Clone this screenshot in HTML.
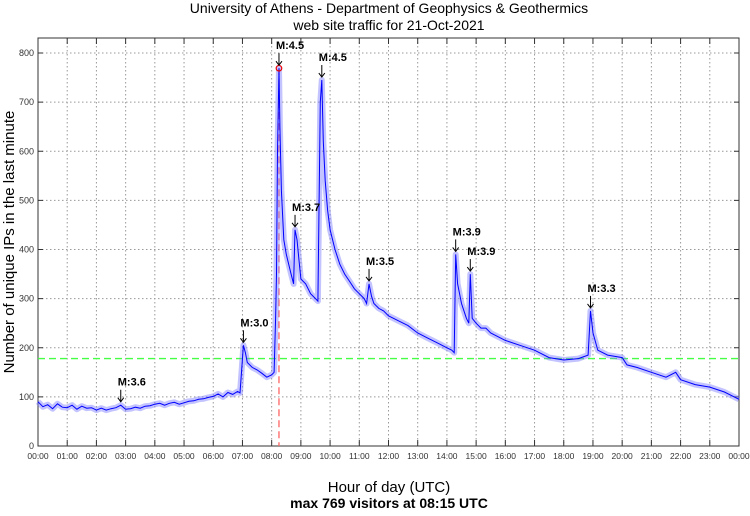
<!DOCTYPE html>
<html><head><meta charset="utf-8"><style>
body{margin:0;background:#fff;font-family:"Liberation Sans",sans-serif}
</style></head><body>
<svg id="c" width="750" height="511" xmlns="http://www.w3.org/2000/svg" font-family="Liberation Sans, sans-serif">
<text x="389" y="13" text-anchor="middle" font-size="14">University of Athens - Department of Geophysics &amp; Geothermics</text>
<text x="389" y="30" text-anchor="middle" font-size="14">web site traffic for 21-Oct-2021</text>
<text x="389" y="492" text-anchor="middle" font-size="15">Hour of day (UTC)</text>
<text x="389" y="508" text-anchor="middle" font-size="14" font-weight="bold">max 769 visitors at 08:15 UTC</text>
<text transform="translate(14,242) rotate(-90)" text-anchor="middle" font-size="15">Number of unique IPs in the last minute</text>
<g id="grid"></g><g id="plot"></g>
</svg>
<script>
const yTicks=[0,100,200,300,400,500,600,700,800];
const xTickLabels=["00:00","01:00","02:00","03:00","04:00","05:00","06:00","07:00","08:00","09:00","10:00","11:00","12:00","13:00","14:00","15:00","16:00","17:00","18:00","19:00","20:00","21:00","22:00","23:00","00:00"];
const times=["00:00","00:10","00:20","00:30","00:40","00:50","01:00","01:10","01:20","01:30","01:40","01:50","02:00","02:10","02:20","02:30","02:40","02:50","03:00","03:10","03:20","03:30","03:40","03:50","04:00","04:10","04:20","04:30","04:40","04:50","05:00","05:10","05:20","05:30","05:40","05:50","06:00","06:10","06:20","06:30","06:40","06:50","06:55","06:58","07:02","07:06","07:10","07:20","07:30","07:40","07:50","08:00","08:05","08:08","08:10","08:12","08:15","08:17","08:20","08:25","08:30","08:35","08:40","08:45","08:48","08:52","08:56","09:00","09:10","09:20","09:30","09:35","09:40","09:43","09:46","09:50","09:55","10:00","10:10","10:20","10:30","10:40","10:50","11:00","11:10","11:15","11:20","11:25","11:30","11:40","11:50","12:00","12:20","12:40","13:00","13:20","13:40","14:00","14:10","14:15","14:18","14:22","14:30","14:40","14:45","14:48","14:52","15:00","15:10","15:20","15:30","16:00","16:30","17:00","17:30","18:00","18:30","18:50","18:55","19:00","19:10","19:30","20:00","20:10","20:30","21:00","21:30","21:50","22:00","22:30","23:00","23:30","24:00"];
const visitors=[90,80,84,76,86,79,78,83,75,81,77,78,73,77,73,76,78,83,75,76,79,77,81,82,85,87,83,87,89,85,88,91,92,95,96,99,101,106,100,109,105,111,108,150,205,190,170,160,155,148,140,145,150,260,350,600,769,650,520,420,390,370,350,330,440,420,380,340,330,310,300,295,700,745,620,540,480,440,400,370,350,335,320,310,300,290,330,305,290,280,275,265,255,245,230,220,210,200,195,190,390,330,290,260,250,350,260,250,240,240,230,215,205,195,180,175,178,185,275,230,195,185,180,165,160,150,140,150,135,125,120,110,95];
const eqTimes=["02:50","07:02","08:15","08:48","09:43","11:20","14:18","14:48","18:55"];
const eqLabels=["M:3.6","M:3.0","M:4.5","M:3.7","M:4.5","M:3.5","M:3.9","M:3.9","M:3.3"];
const eqValues=[84,205,769,440,745,330,390,350,275];
const threshold=178, maxTime="08:15", maxValue=769;

const L=38,R=739,T=38,B=446;
const NS="http://www.w3.org/2000/svg";
const tm=s=>{const[h,m]=s.split(":").map(Number);return h*60+m};
const xs=m=>L+(R-L)*m/1440;
const ys=v=>B-(B-53)*v/800;
function mk(tag,attrs,parent){const e=document.createElementNS(NS,tag);for(const k in attrs)e.setAttribute(k,attrs[k]);parent.appendChild(e);return e}
const g=document.getElementById('grid'),p=document.getElementById('plot');
yTicks.forEach(v=>{
 const y=ys(v);
 if(v>0){const l=mk('line',{x1:L,x2:R,y1:y,y2:y,stroke:'#999','stroke-dasharray':'1.5,2.5','stroke-width':1},g);
 
 }
 const t=mk('text',{x:L-4,y:y+3,'text-anchor':'end','font-size':9,fill:'#333'},g);t.textContent=v;
 
 
 mk('line',{x1:L,x2:L+5,y1:y,y2:y,stroke:'#333'},g);mk('line',{x1:R,x2:R-5,y1:y,y2:y,stroke:'#333'},g);
});
xTickLabels.forEach((s,i)=>{
 const x=xs(i*60);
 if(i>0&&i<24){const l=mk('line',{x1:x,x2:x,y1:T,y2:B,stroke:'#999','stroke-dasharray':'1.5,2.5','stroke-width':1},g);
 
 }
 mk('line',{x1:x,x2:x,y1:B,y2:B-6,stroke:'#333'},g);mk('line',{x1:x,x2:x,y1:T,y2:T+6,stroke:'#333'},g);
 const t=mk('text',{x:x,y:B+13,'text-anchor':'middle','font-size':8.5,fill:'#333'},g);t.textContent=s;
 
 
});
const box=mk('rect',{x:L,y:T,width:R-L,height:B-T,fill:'none',stroke:'#333'},g);


const th=mk('line',{x1:L,x2:R,y1:ys(threshold),y2:ys(threshold),stroke:'#4f4','stroke-dasharray':'7,4','stroke-width':1.3},p);


const mx=xs(tm(maxTime));
const vl=mk('line',{x1:mx,x2:mx,y1:ys(maxValue),y2:B,stroke:'#f66','stroke-dasharray':'7,4','stroke-width':1.3},p);


const pts=times.map((s,i)=>xs(tm(s)).toFixed(1)+','+ys(visitors[i]).toFixed(1)).join(' ');
const band=mk('polyline',{points:pts,fill:'none',stroke:'#7a7aff','stroke-width':6,'stroke-opacity':0.45,'stroke-linejoin':'round'},p);


const line=mk('polyline',{points:pts,fill:'none',stroke:'#00f','stroke-width':1},p);


const c=mk('circle',{cx:mx,cy:ys(maxValue),r:2.8,fill:'none',stroke:'#e00','stroke-width':1.2},p);


eqTimes.forEach((s,i)=>{
 const x=xs(tm(s)),y=ys(eqValues[i]);
 const a=mk('g',{},p);
 
 
 mk('line',{x1:x,x2:x,y1:y-15,y2:y-3,stroke:'#000','stroke-width':1},a);
 mk('path',{d:`M${x-3},${y-7} L${x},${y-3} L${x+3},${y-7}`,fill:'none',stroke:'#000'},a);
 const t=mk('text',{x:x-3,y:y-19,'font-size':11,'font-weight':'bold'},a);t.textContent=eqLabels[i];
});
</script>
</body></html>
